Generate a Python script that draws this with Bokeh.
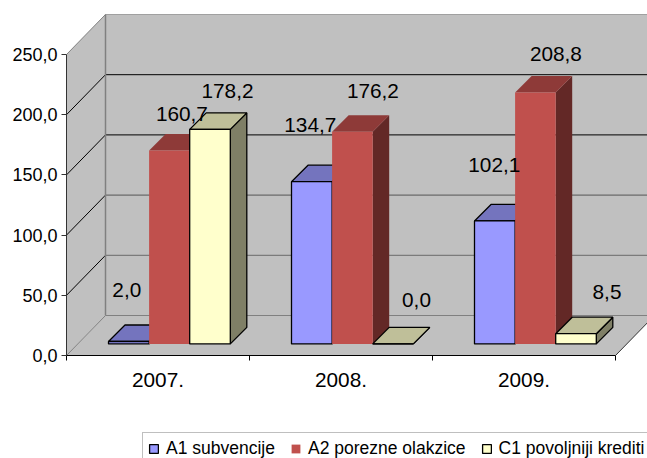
from bokeh.plotting import figure
from bokeh.layouts import column
from bokeh.embed import file_html
from bokeh.resources import INLINE
from bokeh.models import Range1d, LinearAxis, FixedTicker, Legend, LegendItem, ColumnDataSource
from bokeh.core.properties import value

categories = ["2007.", "2008.", "2009."]
a1_subvencije = [2.0, 134.7, 102.1]
a2_porezne = [160.7, 176.2, 208.8]
c1_krediti = [178.2, 0.0, 8.5]
series_names = ["A1 subvencije", "A2 porezne olakzice", "C1 povoljniji krediti"]
y_ticks = [0, 50, 100, 150, 200, 250]
y_labels = ["0,0", "50,0", "100,0", "150,0", "200,0", "250,0"]

# style / layout
W, H = 647, 428
LEG_H = 30
L, B = 66, 73
PX_X = 183.0
PX_Y = 1.204
WALL_DX = 39.0 / PX_X
WALL_DY = 40.0 / PX_Y
BAR_BASE_DX = 12.0 / PX_X
BAR_BASE_DY = 11.6 / PX_Y
BAR_DX = 16.5 / PX_X
BAR_DY = 16.5 / PX_Y
BAR_W = 40.6 / PX_X
GAP = 30.0 / PX_X
TICK_FS, CAT_FS, LAB_FS, LEG_FS = "18px", "20.8px", "20.8px", "17.5px"
FONT = "Liberation Sans"
A1_STYLE = ("#9999FF", "#7474BE", "#4D4D80", "#000000")
A2_STYLE = ("#C0504D", "#8E3A38", "#632826", None)
C1_STYLE = ("#FFFFCC", "#BFBF99", "#7F7F66", "#000000")

p = figure(width=W, height=H, output_backend="svg", toolbar_location=None,
           x_range=Range1d(0, (W - L) / PX_X), y_range=Range1d(0, (H - B) / PX_Y),
           x_axis_type=None, y_axis_type=None,
           min_border_left=L, min_border_right=0, min_border_top=0, min_border_bottom=B,
           outline_line_color=None, background_fill_color="white", border_fill_color="white")
p.grid.visible = False

WALL = "#C0C0C0"
right = 3
top = y_ticks[-1]
p.patch([WALL_DX, right + WALL_DX, right + WALL_DX, WALL_DX],
        [WALL_DY, WALL_DY, top + WALL_DY, top + WALL_DY], fill_color=WALL, line_color=None)
p.patch([0, WALL_DX, WALL_DX, 0], [0, WALL_DY, top + WALL_DY, top],
        fill_color=WALL, line_color=None)
p.patch([0, right, right + WALL_DX, WALL_DX], [0, 0, WALL_DY, WALL_DY],
        fill_color=WALL, line_color=None)

grid_colors = ["#808080", "#6a6a6a", "#555555", "#000000", "#000000", "#A0A0A0"]
for t, c in zip(y_ticks, grid_colors):
    p.line([WALL_DX, right + WALL_DX], [t + WALL_DY, t + WALL_DY], line_color=c, line_width=1)
    p.line([0, WALL_DX], [t, t + WALL_DY],
           line_color=("#808080" if t in (0, top) else "#000000"), line_width=1)
p.line([WALL_DX, WALL_DX], [WALL_DY, top + WALL_DY], line_color="#808080", line_width=1.5)
p.line([right, right + WALL_DX], [0, WALL_DY], line_color="#333333", line_width=1)


def draw_series(idx, vals, style):
    front, topc, side, outline = style
    lefts = [i + GAP + BAR_BASE_DX + idx * BAR_W for i in range(len(vals))]
    rights = [l + BAR_W for l in lefts]
    base = BAR_BASE_DY
    tops = [v + base for v in vals]
    p.patches([[r, r + BAR_DX, r + BAR_DX, r] for r in rights],
              [[base, base + BAR_DY, t + BAR_DY, t] for t in tops],
              fill_color=side, line_color=outline, line_width=1.3)
    p.patches([[l, r, r + BAR_DX, l + BAR_DX] for l, r in zip(lefts, rights)],
              [[t, t, t + BAR_DY, t + BAR_DY] for t in tops],
              fill_color=topc, line_color=outline, line_width=1.3)
    p.quad(left=lefts, right=rights, bottom=[base] * len(vals), top=tops,
           fill_color=front, line_color=outline, line_width=1.3)


draw_series(0, a1_subvencije, A1_STYLE)
draw_series(1, a2_porezne, A2_STYLE)
draw_series(2, c1_krediti, C1_STYLE)

all_vals = a1_subvencije + a2_porezne + c1_krediti
lx, ly = [], []
for idx in range(3):
    for i in range(3):
        lx.append(i + GAP + BAR_BASE_DX + (idx + 0.5) * BAR_W)
        ly.append(all_vals[idx * 3 + i] + BAR_BASE_DY)
off_x = [-2, -1.5, -0.5, 12.5, 20.5, 20.5, 17.5, 23.5, 31]
off_y = [-51, -57, -56, -36, -40.5, -39, -38, -43.5, -41.5]
src = ColumnDataSource(dict(x=lx, y=ly, t=[f"{v:.1f}".replace(".", ",") for v in all_vals],
                            ox=off_x, oy=off_y))
p.text(x="x", y="y", text="t", x_offset="ox", y_offset="oy", source=src, text_align="center",
       text_baseline="middle", text_font=value(FONT), text_font_size=LAB_FS, text_color="#000000")

ya = LinearAxis(ticker=FixedTicker(ticks=y_ticks),
                major_label_overrides={t: s for t, s in zip(y_ticks, y_labels)},
                bounds=(0, top), major_tick_in=0, major_tick_out=5, minor_tick_line_color=None,
                major_label_text_font=FONT, major_label_text_font_size=TICK_FS,
                major_label_text_color="#000000", axis_line_color="#333333",
                major_tick_line_color="#333333", major_label_standoff=4)
p.add_layout(ya, "left")
xa = LinearAxis(ticker=FixedTicker(ticks=[0.5, 1.5, 2.5], minor_ticks=[0, 1, 2, 3]),
                major_label_overrides={i + 0.5: c for i, c in enumerate(categories)},
                bounds=(0, 3), major_tick_line_color=None, major_tick_in=0, major_tick_out=0,
                minor_tick_in=0, minor_tick_out=5, minor_tick_line_color="#000000",
                axis_line_color="#000000",
                major_label_text_font=FONT, major_label_text_font_size=CAT_FS,
                major_label_text_color="#000000", major_label_standoff=12)
p.add_layout(xa, "below")

# legend strip: its swatches take their colours from one off-range quad per series
q = figure(width=W, height=LEG_H, output_backend="svg", toolbar_location=None,
           x_range=Range1d(0, 1), y_range=Range1d(0, 1), x_axis_type=None, y_axis_type=None,
           min_border_left=0, min_border_right=0, min_border_top=0, min_border_bottom=0,
           outline_line_color=None, background_fill_color="white",
           border_fill_color="white")
q.grid.visible = False
renderers = [q.quad(left=[2], right=[3], bottom=[2], top=[3], fill_color=s[0], line_color=s[3], line_width=1.3)
             for s in (A1_STYLE, A2_STYLE, C1_STYLE)]
legend = Legend(items=[LegendItem(label=n, renderers=[r]) for n, r in zip(series_names, renderers)],
                orientation="horizontal", location=(142 - L, -7), padding=5, margin=0,
                spacing=15, glyph_width=11, glyph_height=11, label_standoff=7,
                label_text_font=FONT, label_text_font_size=LEG_FS, label_text_color="#000000",
                border_line_color="#808080", border_line_width=1.5,
                background_fill_color="white", background_fill_alpha=1)
q.add_layout(legend, "center")

page = column(p, q, spacing=0)
open("out.html", "w").write(file_html(page, INLINE))
